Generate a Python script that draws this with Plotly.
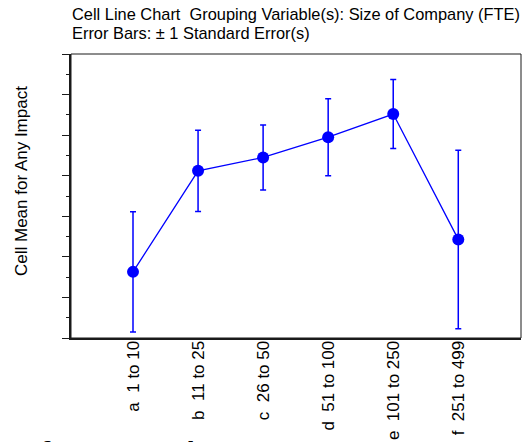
import plotly.graph_objects as go

# Size-of-company groups and the cell means with their standard errors
categories = ["a  1 to 10", "b  11 to 25", "c  26 to 50", "d  51 to 100", "e  101 to 250", "f  251 to 499"]
cell_means = [0.163, 0.412, 0.445, 0.495, 0.552, 0.243]
std_errors = [0.148, 0.100, 0.080, 0.095, 0.085, 0.220]

FONT = "Liberation Sans, Arial, sans-serif"
BLUE = "#0000ff"
PLOT_H = 284.0
PLOT_W = 450.0

fig = go.Figure()
fig.add_trace(go.Scatter(
    x=categories,
    y=cell_means,
    mode="lines+markers",
    line=dict(color=BLUE, width=1.3),
    marker=dict(color=BLUE, size=12),
    error_y=dict(type="data", array=std_errors, visible=True,
                 color=BLUE, thickness=1.5, width=3),
    showlegend=False,
    hoverinfo="skip",
))

fig.update_layout(
    width=530, height=442,
    margin=dict(l=71, r=9, t=54, b=104),
    paper_bgcolor="white", plot_bgcolor="white",
    font=dict(family=FONT, color="black", size=16),
    xaxis=dict(
        type="category",
        range=[-0.953, 5.964],
        automargin=False,
        showline=True, linecolor="#1a1a1a", linewidth=2,
        ticks="", showgrid=False, zeroline=False,
        tickangle=-90, tickfont=dict(size=17, family=FONT),
        ticklabelstandoff=-6,
    ),
    yaxis=dict(
        range=[0, 0.7],
        dtick=0.1, tick0=0,
        automargin=False,
        showline=True, linecolor="#1a1a1a", linewidth=2,
        ticks="outside", ticklen=7, tickwidth=1.2, tickcolor="#1a1a1a",
        minor=dict(dtick=0.05, ticks="outside", ticklen=3, tickwidth=1.2, tickcolor="#1a1a1a"),
        showticklabels=False, showgrid=False, zeroline=False,
    ),
    shapes=[dict(type="rect", xref="paper", yref="paper", x0=0, x1=1, y0=0, y1=1,
                 line=dict(color="#1a1a1a", width=1))],
    annotations=[
        dict(text="Cell Line Chart  Grouping Variable(s): Size of Company (FTE)",
             xref="paper", yref="paper", x=-1 / PLOT_W, y=1.0 + 40 / PLOT_H,
             xanchor="left", yanchor="middle", showarrow=False,
             font=dict(size=16.4, family=FONT)),
        dict(text="Error Bars: \u00b1 1 Standard Error(s)",
             xref="paper", yref="paper", x=-1 / PLOT_W, y=1.0 + 21 / PLOT_H,
             xanchor="left", yanchor="middle", showarrow=False,
             font=dict(size=16.4, family=FONT)),
        dict(text="Cell Mean for Any Impact",
             xref="paper", yref="paper", x=-(71 - 21) / PLOT_W, y=(338 - 181) / PLOT_H,
             xanchor="center", yanchor="middle", textangle=-90, showarrow=False,
             font=dict(size=17, family=FONT)),
        dict(text="<b>of Reported Impact</b>",
             xref="paper", yref="paper", x=-(71 - 19) / PLOT_W, y=-(434 - 338) / PLOT_H,
             xanchor="left", yanchor="top", showarrow=False,
             font=dict(size=31, family=FONT)),
    ],
)

fig.write_html("out.html")
